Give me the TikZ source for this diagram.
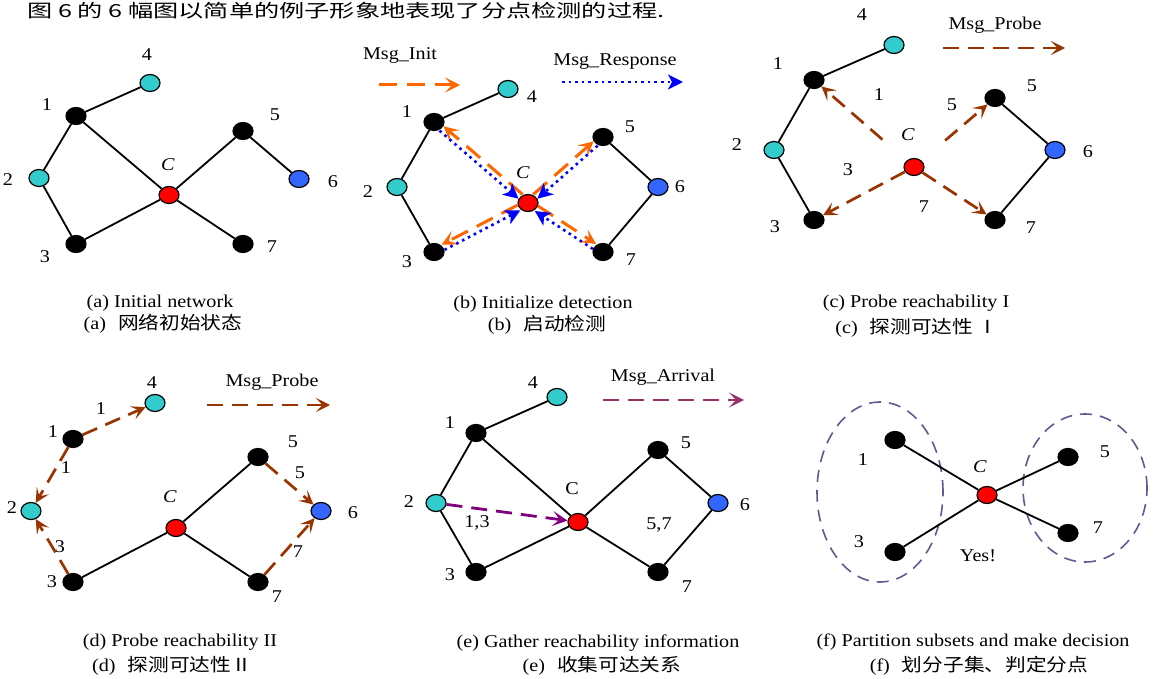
\documentclass[tikz,border=0pt]{standalone}
\usepackage{fontspec}
\setmainfont{Liberation Serif}[FakeStretch=1.12]
\newfontfamily\cjk{Noto Sans CJK SC}[FakeStretch=1.15]
\newfontfamily\cjkhead{Noto Sans CJK SC}[FakeStretch=1.4]
\usetikzlibrary{arrows.meta}
\usetikzlibrary{shapes.geometric}
\definecolor{nodecyan}{HTML}{33CCCC}
\definecolor{nodeblue}{HTML}{3366FF}
\definecolor{nodered}{HTML}{FF0000}
\definecolor{initorange}{HTML}{FF6600}
\definecolor{respblue}{HTML}{0000FF}
\definecolor{probebrown}{HTML}{993300}
\definecolor{arrivalpurple}{HTML}{993366}
\definecolor{gatherpurple}{HTML}{800080}
\definecolor{setblue}{HTML}{5C5C94}
\tikzstyle{plain_node} = [ellipse, draw=black, line width=0.6pt, minimum width=10pt, minimum height=8.5pt, inner sep=0pt]
\tikzstyle{black_node} = [plain_node, fill=black]
\tikzstyle{cyan_node} = [plain_node, fill=nodecyan]
\tikzstyle{blue_node} = [plain_node, fill=nodeblue]
\tikzstyle{red_node} = [plain_node, fill=nodered]
\tikzstyle{num} = [inner sep=0pt, font=\fontsize{9}{10}\selectfont]
\tikzstyle{caption} = [inner sep=0pt, font=\fontsize{9}{10}\selectfont]
\tikzstyle{link} = [line width=0.9pt]
\tikzstyle{init_arrow} = [color=initorange, line width=1.5pt, dash pattern=on 9pt off 5pt, -{Stealth[length=7.5pt, width=7.5pt, inset=3.5pt]}]
\tikzstyle{resp_arrow} = [color=respblue, line width=1.3pt, dash pattern=on 1.3pt off 2pt, -{Stealth[length=7.5pt, width=7.5pt, inset=2pt]}]
\tikzstyle{probe_arrow} = [color=probebrown, line width=1.35pt, dash pattern=on 8pt off 4.5pt, -{Stealth[length=7pt, width=7pt, inset=3.2pt]}]
\tikzstyle{arrival_arrow} = [color=arrivalpurple, line width=1.4pt, dash pattern=on 8pt off 4.5pt, -{Stealth[length=7.5pt, width=7.5pt, inset=3.5pt]}]
\tikzstyle{gather_arrow} = [color=gatherpurple, line width=1.4pt, dash pattern=on 8pt off 4.5pt, -{Stealth[length=7.5pt, width=7.5pt, inset=3.5pt]}]
\tikzstyle{subset} = [ellipse, draw=setblue, line width=0.8pt, dash pattern=on 6pt off 4pt, inner sep=0pt]

\begin{document}
\begin{tikzpicture}[x=0.5pt, y=-0.5pt]
\useasboundingbox (0,0) rectangle (1157,679);

\node [anchor=west, inner sep=0pt, font=\fontsize{9}{10}\cjkhead] (header) at (27,11) {图 6 的 6 幅图以简单的例子形象地表现了分点检测的过程.};

% (a)
\node [black_node] (a_n1) at (76,116) {};
\node [cyan_node] (a_n2) at (39,178) {};
\node [black_node] (a_n3) at (76,244) {};
\node [cyan_node] (a_n4) at (150,83) {};
\node [red_node] (a_c) at (169,195) {};
\node [black_node] (a_n5) at (243,131) {};
\node [blue_node] (a_n6) at (299,179) {};
\node [black_node] (a_n7) at (243,244) {};
\node [num] (a_l1) at (47,105) {1};
\node [num] (a_l2) at (8,180) {2};
\node [num] (a_l3) at (45,257) {3};
\node [num] (a_l4) at (147,55) {4};
\node [num] (a_lc) at (168,165) {\textit{C}};
\node [num] (a_l5) at (275,115) {5};
\node [num] (a_l6) at (333,182) {6};
\node [num] (a_l7) at (272,247) {7};
\node [caption] (a_cap_en) at (160,303) {(a) Initial network};
\node [caption] (a_cap_cn) at (163,324) {(a)\hspace{6pt}{\cjk 网络初始状态}};
\draw [link] (a_n1) -- (a_n4);
\draw [link] (a_n1) -- (a_n2);
\draw [link] (a_n2) -- (a_n3);
\draw [link] (a_n1) -- (a_c);
\draw [link] (a_n3) -- (a_c);
\draw [link] (a_c) -- (a_n5);
\draw [link] (a_n5) -- (a_n6);
\draw [link] (a_c) -- (a_n7);

% (b)
\node [black_node] (b_n1) at (434,122) {};
\node [cyan_node] (b_n2) at (397,187) {};
\node [black_node] (b_n3) at (434,252) {};
\node [cyan_node] (b_n4) at (508,89) {};
\node [red_node] (b_c) at (528,203) {};
\node [black_node] (b_n5) at (603,137) {};
\node [blue_node] (b_n6) at (658,187) {};
\node [black_node] (b_n7) at (603,252) {};
\node [num] (b_l1) at (407,112) {1};
\node [num] (b_l2) at (368,192) {2};
\node [num] (b_l3) at (407,262) {3};
\node [num] (b_l4) at (532,97) {4};
\node [num] (b_lc) at (523,173) {\textit{C}};
\node [num] (b_l5) at (630,127) {5};
\node [num] (b_l6) at (680,187) {6};
\node [num] (b_l7) at (631,260) {7};
\node [num] (b_init) at (400,55) {Msg\_Init};
\coordinate (b_init_s) at (379,85);
\coordinate (b_init_e) at (460,85);
\node [num] (b_resp) at (615,62) {Msg\_Response};
\coordinate (b_resp_s) at (562,82);
\coordinate (b_resp_e) at (683,82);
\node [caption] (b_cap_en) at (543,304) {(b) Initialize detection};
\node [caption] (b_cap_cn) at (547,325) {(b)\hspace{6pt}{\cjk 启动检测}};
\draw [link] (b_n1) -- (b_n4);
\draw [link] (b_n1) -- (b_n2);
\draw [link] (b_n2) -- (b_n3);
\draw [link] (b_n5) -- (b_n6);
\draw [link] (b_n6) -- (b_n7);
\draw [init_arrow] (b_init_s) -- (b_init_e);
\draw [resp_arrow] (b_resp_s) -- (b_resp_e);
\draw [init_arrow, transform canvas={xshift=1pt, yshift=1.1pt}] (b_c) -- (b_n1);
\draw [init_arrow, transform canvas={xshift=-1pt, yshift=1.1pt}] (b_c) -- (b_n5);
\draw [init_arrow, transform canvas={xshift=-0.7pt, yshift=1.3pt}] (b_c) -- (b_n3);
\draw [init_arrow, transform canvas={xshift=0.8pt, yshift=1.25pt}] (b_c) -- (b_n7);
\draw [resp_arrow, transform canvas={xshift=-1pt, yshift=-1.1pt}] (b_n1) -- (b_c);
\draw [resp_arrow, transform canvas={xshift=1pt, yshift=-1.1pt}] (b_n5) -- (b_c);
\draw [resp_arrow, transform canvas={xshift=0.7pt, yshift=-1.3pt}] (b_n3) -- (b_c);
\draw [resp_arrow, transform canvas={xshift=-0.8pt, yshift=-1.25pt}] (b_n7) -- (b_c);

% (c)
\node [black_node] (c_n1) at (814,80) {};
\node [cyan_node] (c_n2) at (774,150) {};
\node [black_node] (c_n3) at (814,220) {};
\node [cyan_node] (c_n4) at (894,45) {};
\node [red_node] (c_c) at (914,167) {};
\node [black_node] (c_n5) at (995,98) {};
\node [blue_node] (c_n6) at (1055,150) {};
\node [black_node] (c_n7) at (995,220) {};
\node [num] (c_l1) at (778,64) {1};
\node [num] (c_l2) at (737,145) {2};
\node [num] (c_l3) at (775,227) {3};
\node [num] (c_l4) at (862,15) {4};
\node [num] (c_lc) at (908,135) {\textit{C}};
\node [num] (c_l5) at (1032,86) {5};
\node [num] (c_l6) at (1088,152) {6};
\node [num] (c_l7) at (1031,228) {7};
\node [num] (c_e1) at (879,95) {1};
\node [num] (c_e5) at (952,105) {5};
\node [num] (c_e3) at (848,170) {3};
\node [num] (c_e7) at (924,207) {7};
\node [num] (c_probe) at (995,25) {Msg\_Probe};
\coordinate (c_probe_s) at (943,48);
\coordinate (c_probe_e) at (1065,48);
\node [caption] (c_cap_en) at (916,303) {(c) Probe reachability I};
\node [caption] (c_cap_cn) at (917,328) {(c)\hspace{6pt}{\cjk 探测可达性 Ⅰ}};
\draw [link] (c_n1) -- (c_n4);
\draw [link] (c_n1) -- (c_n2);
\draw [link] (c_n2) -- (c_n3);
\draw [link] (c_n5) -- (c_n6);
\draw [link] (c_n6) -- (c_n7);
\draw [probe_arrow] (c_probe_s) -- (c_probe_e);
\draw [probe_arrow, shorten <=16pt] (c_c) -- (c_n1);
\draw [probe_arrow, shorten <=15.5pt] (c_c) -- (c_n5);
\draw [probe_arrow] (c_c) -- (c_n3);
\draw [probe_arrow] (c_c) -- (c_n7);

% (d)
\node [black_node] (d_n1) at (73,439) {};
\node [cyan_node] (d_n2) at (31,511) {};
\node [black_node] (d_n3) at (73,582) {};
\node [cyan_node] (d_n4) at (155,403) {};
\node [red_node] (d_c) at (176,528) {};
\node [black_node] (d_n5) at (258,457) {};
\node [blue_node] (d_n6) at (321,511) {};
\node [black_node] (d_n7) at (258,582) {};
\node [num] (d_l1) at (53,432) {1};
\node [num] (d_l2) at (12,508) {2};
\node [num] (d_l3) at (52,582) {3};
\node [num] (d_l4) at (152,383) {4};
\node [num] (d_lc) at (170,497) {\textit{C}};
\node [num] (d_l5) at (293,442) {5};
\node [num] (d_l6) at (353,513) {6};
\node [num] (d_l7) at (277,597) {7};
\node [num] (d_e14) at (101,409) {1};
\node [num] (d_e12) at (66,468) {1};
\node [num] (d_e32) at (60,547) {3};
\node [num] (d_e56) at (300,473) {5};
\node [num] (d_e76) at (298,552) {7};
\node [num] (d_probe) at (272,382) {Msg\_Probe};
\coordinate (d_probe_s) at (207,405);
\coordinate (d_probe_e) at (330,405);
\node [caption] (d_cap_en) at (180,642) {(d) Probe reachability II};
\node [caption] (d_cap_cn) at (172,666) {(d)\hspace{6pt}{\cjk 探测可达性Ⅱ}};
\draw [link] (d_c) -- (d_n3);
\draw [link] (d_c) -- (d_n5);
\draw [link] (d_c) -- (d_n7);
\draw [probe_arrow] (d_probe_s) -- (d_probe_e);
\draw [probe_arrow] (d_n1) -- (d_n4);
\draw [probe_arrow] (d_n1) -- (d_n2);
\draw [probe_arrow] (d_n3) -- (d_n2);
\draw [probe_arrow] (d_n5) -- (d_n6);
\draw [probe_arrow] (d_n7) -- (d_n6);

% (e)
\node [black_node] (e_n1) at (476,433) {};
\node [cyan_node] (e_n2) at (436,503) {};
\node [black_node] (e_n3) at (476,572) {};
\node [cyan_node] (e_n4) at (557,397) {};
\node [red_node] (e_c) at (578,522) {};
\node [black_node] (e_n5) at (658,450) {};
\node [blue_node] (e_n6) at (718,503) {};
\node [black_node] (e_n7) at (658,572) {};
\node [num] (e_l1) at (450,423) {1};
\node [num] (e_l2) at (409,502) {2};
\node [num] (e_l3) at (450,575) {3};
\node [num] (e_l4) at (533,383) {4};
\node [num] (e_lc) at (572,489) {C};
\node [num] (e_l5) at (686,443) {5};
\node [num] (e_l6) at (745,505) {6};
\node [num] (e_l7) at (687,587) {7};
\node [num] (e_left) at (477,523) {1,3};
\node [num] (e_right) at (659,525) {5,7};
\node [num] (e_arrival) at (663,377) {Msg\_Arrival};
\coordinate (e_arrival_s) at (603,400);
\coordinate (e_arrival_e) at (744,400);
\node [caption] (e_cap_en) at (598,643) {(e) Gather reachability information};
\node [caption] (e_cap_cn) at (602,666) {(e)\hspace{6pt}{\cjk 收集可达关系}};
\draw [link] (e_n1) -- (e_n4);
\draw [link] (e_n1) -- (e_n2);
\draw [link] (e_n2) -- (e_n3);
\draw [link] (e_n1) -- (e_c);
\draw [link] (e_n3) -- (e_c);
\draw [link] (e_c) -- (e_n5);
\draw [link] (e_n5) -- (e_n6);
\draw [link] (e_n6) -- (e_n7);
\draw [link] (e_c) -- (e_n7);
\draw [arrival_arrow] (e_arrival_s) -- (e_arrival_e);
\draw [gather_arrow] (e_n2) -- (e_c);

% (f)
\node [subset, minimum width=63pt, minimum height=90pt] (f_set_left) at (880,492) {};
\node [subset, minimum width=62pt, minimum height=74pt] (f_set_right) at (1085,488) {};
\node [black_node] (f_n1) at (895,440) {};
\node [black_node] (f_n3) at (895,552) {};
\node [red_node] (f_c) at (987,495) {};
\node [black_node] (f_n5) at (1068,457) {};
\node [black_node] (f_n7) at (1068,533) {};
\node [num] (f_l1) at (863,460) {1};
\node [num] (f_l3) at (859,542) {3};
\node [num] (f_lc) at (980,467) {\textit{C}};
\node [num] (f_l5) at (1105,452) {5};
\node [num] (f_l7) at (1098,528) {7};
\node [num] (f_yes) at (978,556) {Yes!};
\node [caption] (f_cap_en) at (973,642) {(f) Partition subsets and make decision};
\node [caption] (f_cap_cn) at (979,666) {(f)\hspace{6pt}{\cjk 划分子集、判定分点}};
\draw [link] (f_c) -- (f_n1);
\draw [link] (f_c) -- (f_n3);
\draw [link] (f_c) -- (f_n5);
\draw [link] (f_c) -- (f_n7);

\end{tikzpicture}
\end{document}
